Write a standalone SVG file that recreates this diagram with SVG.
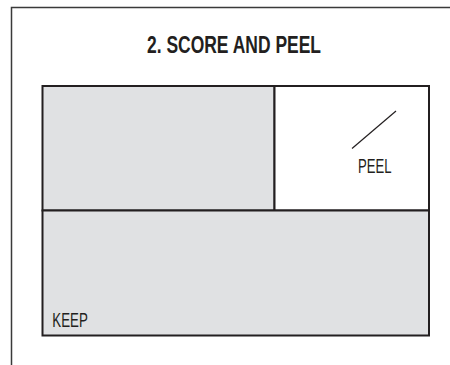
<svg xmlns="http://www.w3.org/2000/svg" width="450" height="365" viewBox="0 0 450 365">
<style>
.frame{fill:none;stroke:#3a3a3a;stroke-width:1.5}
.panel{stroke:#231f20;stroke-width:2}
.grey{fill:#e0e1e3}
.white{fill:#ffffff}
.title{font-family:"Liberation Sans",Arial,sans-serif;font-weight:bold;font-size:23px;fill:#231f20}
.label{font-family:"Liberation Sans",Arial,sans-serif;font-size:20px;fill:#231f20}
</style>
<rect width="450" height="365" fill="#ffffff"/>
<path class="frame" d="M11.5,365 V7.5 H450"/>
<text class="title" x="234" y="52.5" text-anchor="middle" textLength="174" lengthAdjust="spacingAndGlyphs">2. SCORE AND PEEL</text>
<g id="discard">
<rect class="panel grey" x="42.5" y="86" width="232" height="124.5"/>
</g>
<g id="peel">
<rect class="panel white" x="274.5" y="86" width="154.5" height="124.5"/>
<line x1="352" y1="148.5" x2="396" y2="111" stroke="#231f20" stroke-width="1.2"/>
<text class="label" x="358" y="172.7" textLength="33.5" lengthAdjust="spacingAndGlyphs">PEEL</text>
</g>
<g id="keep">
<rect class="panel grey" x="42.5" y="210.5" width="386.5" height="125"/>
<text class="label" x="52.3" y="326.8" textLength="35.5" lengthAdjust="spacingAndGlyphs">KEEP</text>
</g>
<g id="connectors"/>
</svg>
